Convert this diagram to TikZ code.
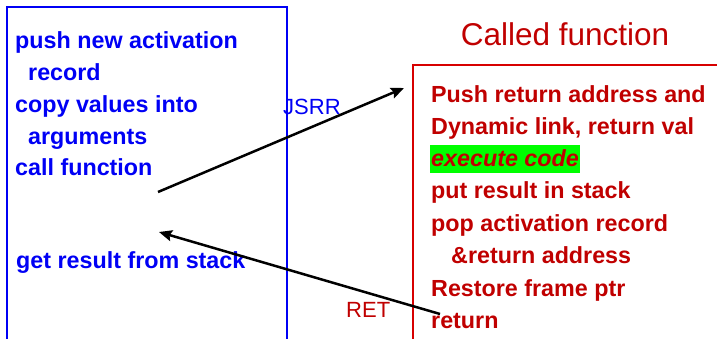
\documentclass[tikz,border=0pt]{standalone}
\usepackage{fontspec}
\setmainfont{Liberation Sans}
\usetikzlibrary{arrows.meta,positioning}
\definecolor{callerblue}{RGB}{0,0,245}
\definecolor{calleered}{RGB}{192,0,0}
\definecolor{boxred}{RGB}{215,0,0}
\definecolor{hlgreen}{RGB}{0,255,0}
\tikzset{
  % one line of the caller's / callee's steps
  callerln/.style={font=\bfseries\fontsize{23.3}{28}\selectfont, text=callerblue,
    anchor=base west, inner sep=0pt},
  calleeln/.style={font=\bfseries\fontsize{23.3}{28}\selectfont, text=calleered,
    anchor=base west, inner sep=0pt},
  % instruction labels on the arrows
  instrlbl/.style={font=\fontsize{22}{26}\selectfont, anchor=base west, inner sep=0pt},
  % control transfer arrows
  jumparrow/.style={-{Stealth[length=13pt,width=11pt,inset=2pt]}, line width=2.5pt, black},
}

\begin{document}
\begin{tikzpicture}[x=1pt, y=-1pt]
  \useasboundingbox (0,0) rectangle (717,339);
  % --- caller frame ---
  \draw[callerblue, line width=2pt] (7,7) rectangle (287,350);
  \node[callerln] (push)  at (15,49)  {push new activation};
  \node[callerln] (rec)   at (28,81)  {record};
  \node[callerln] (copy)  at (15,113) {copy values into};
  \node[callerln] (args)  at (28,145) {arguments};
  \node[callerln] (call)  at (15,176) {call function};
  \node[callerln] (get)   at (16,268) {get result from stack};
  % --- called function frame ---
  \node[font=\fontsize{31.5}{36}\selectfont, text=calleered, anchor=base, inner sep=0pt]
    (title) at (565,46) {Called function};
  \draw[boxred, line width=1.5pt] (413,65) rectangle (730,350);
  \node[calleeln] (pushret) at (431,103) {Push return address and};
  \node[calleeln] (dyn)     at (431,135) {Dynamic link, return val};
  \node[calleeln, fill=hlgreen, inner xsep=1pt, inner ysep=0pt,
        text height=22pt, text depth=6pt, font=\bfseries\itshape\fontsize{23.3}{28}\selectfont]
    (exec) at (430,167) {execute code};
  \node[calleeln] (put)     at (431,199) {put result in stack};
  \node[calleeln] (pop)     at (431,231) {pop activation record};
  \node[calleeln] (retaddr) at (451,263) {\&return address};
  \node[calleeln] (restore) at (431,296) {Restore frame ptr};
  \node[calleeln] (ret)     at (431,328) {return};
  % --- jumps ---
  \node[instrlbl, text=callerblue] (jsrr) at (283,115) {JSRR};
  \node[instrlbl, text=calleered]  (retl) at (346,317) {RET};
  \draw[callerblue, line width=2pt] (287,95) -- (287,120);
  \coordinate (callpt) at (158,192);
  \coordinate (calltip) at (404,88);
  \coordinate (retpt) at (440,314);
  \coordinate (rettip) at (159,232);
  \draw[jumparrow] (callpt) -- (calltip);
  \draw[jumparrow] (retpt) -- (rettip);
\end{tikzpicture}
\end{document}
